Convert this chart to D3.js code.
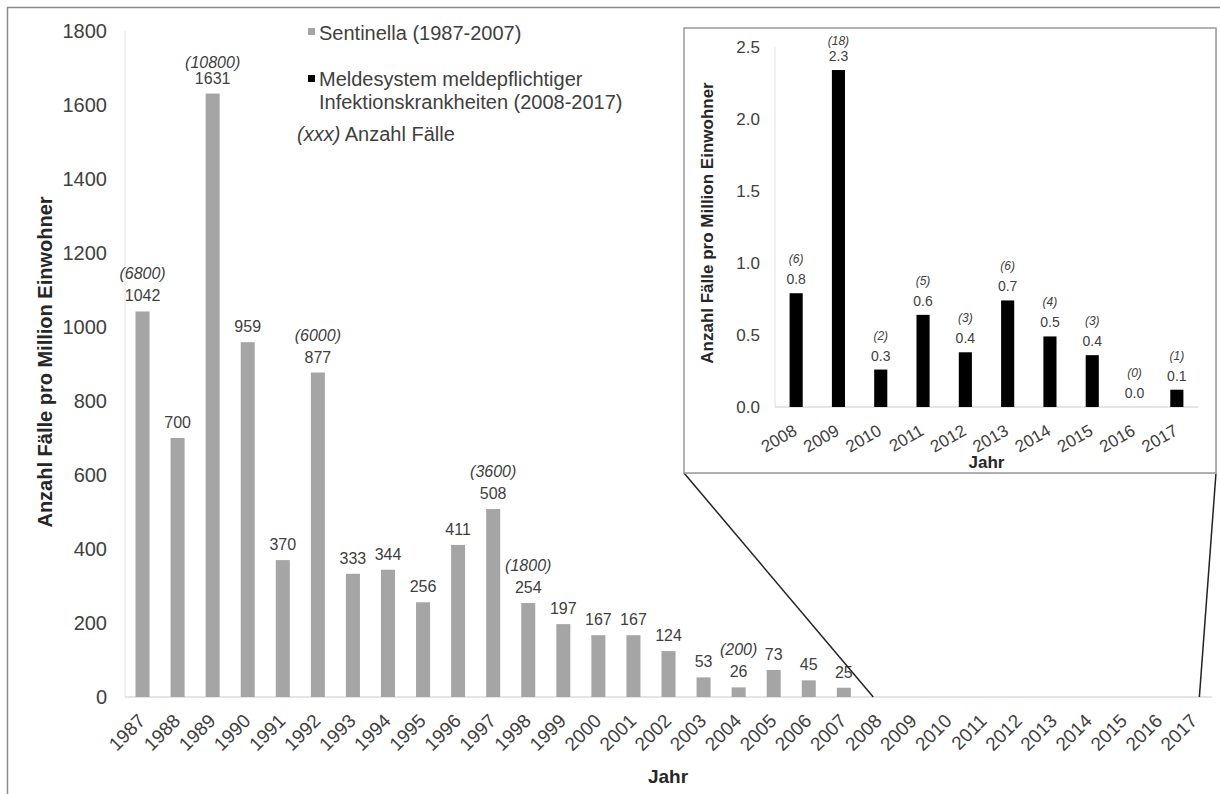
<!DOCTYPE html>
<meta charset="utf-8">
<style>
body { margin: 0; background: #fff; }
svg text { font-family: Arial, "Liberation Sans", sans-serif; }
.tick-label { fill: #404040; }
.val-label { fill: #404040; }
.case-label { fill: #404040; font-style: italic; }
.axis-title { font-weight: bold; fill: #262626; }
</style>
<svg width="1220" height="794"></svg>
<script src="https://d3js.org/d3.v7.min.js"></script>
<script>

// Sentinella 1987-2007
var sentYears = ["1987","1988","1989","1990","1991","1992","1993","1994","1995","1996","1997",
                 "1998","1999","2000","2001","2002","2003","2004","2005","2006","2007"];
var sentRates = [1042, 700, 1631, 959, 370, 877, 333, 344, 256, 411, 508,
                 254, 197, 167, 167, 124, 53, 26, 73, 45, 25];
var sentCases = [6800, null, 10800, null, null, 6000, null, null, null, null, 3600,
                 1800, null, null, null, null, null, 200, null, null, null];

// Meldesystem 2008-2017
var meldYears = ["2008","2009","2010","2011","2012","2013","2014","2015","2016","2017"];
var meldRates = [0.79, 2.34, 0.26, 0.64, 0.38, 0.74, 0.49, 0.36, 0.0, 0.12];
var meldCases = [6, 18, 2, 5, 3, 6, 4, 3, 0, 1];

var mainTicks = [0, 200, 400, 600, 800, 1000, 1200, 1400, 1600, 1800];
var insetTicks = [0, 0.5, 1.0, 1.5, 2.0, 2.5];

var legendItems = ["Sentinella (1987-2007)",
                   "Meldesystem meldepflichtiger|Infektionskrankheiten (2008-2017)"];

var svg = d3.select("svg");

// outer frame
svg.append("rect")
    .attr("x", 7.5).attr("y", 7.5)
    .attr("width", 1240).attr("height", 820)
    .attr("fill", "none")
    .attr("stroke", "#8a8a8a")
    .attr("stroke-width", 1.5);

// ---------- main chart ----------
var allYears = sentYears.concat(meldYears);

var x = d3.scaleBand()
    .domain(allYears)
    .range([125, 1212])
    .paddingInner(0.6)
    .paddingOuter(0.3);

var y = d3.scaleLinear()
    .domain([0, 1800])
    .range([697, 31]);

var main = svg.append("g");

// axis lines
main.append("line")
    .attr("x1", 125).attr("x2", 125)
    .attr("y1", y(1800)).attr("y2", y(0))
    .attr("stroke", "#e3e3e3").attr("stroke-width", 1);
main.append("line")
    .attr("x1", 125).attr("x2", 1212)
    .attr("y1", y(0)).attr("y2", y(0))
    .attr("stroke", "#dcdcdc").attr("stroke-width", 1.5);

main.selectAll(".ytick")
  .data(mainTicks)
  .join("text")
    .attr("class", "tick-label")
    .attr("x", 107)
    .attr("y", d => y(d))
    .attr("dy", "0.36em")
    .attr("text-anchor", "end")
    .attr("font-size", 20)
    .text(d => d);

main.selectAll(".xtick")
  .data(allYears)
  .join("text")
    .attr("class", "tick-label")
    .attr("text-anchor", "end")
    .attr("font-size", 19)
    .attr("transform", d => `translate(${x(d) + x.bandwidth() / 2 + 4},${y(0) + 25}) rotate(-45)`)
    .text(d => d);

var sentData = sentYears.map((yr, i) => ({year: yr, rate: sentRates[i], cases: sentCases[i]}));

main.selectAll(".bar")
  .data(sentData)
  .join("rect")
    .attr("x", d => x(d.year))
    .attr("y", d => y(d.rate))
    .attr("width", x.bandwidth())
    .attr("height", d => y(0) - y(d.rate))
    .attr("fill", "#a5a5a5");

main.selectAll(".val")
  .data(sentData)
  .join("text")
    .attr("class", "val-label")
    .attr("x", d => x(d.year) + x.bandwidth() / 2)
    .attr("y", d => y(d.rate) - 10)
    .attr("text-anchor", "middle")
    .attr("font-size", 16)
    .text(d => d.rate);

main.selectAll(".cases")
  .data(sentData.filter(d => d.cases !== null))
  .join("text")
    .attr("class", "case-label")
    .attr("x", d => x(d.year) + x.bandwidth() / 2)
    .attr("y", d => Math.max(y(d.rate) - 32, 68))
    .attr("text-anchor", "middle")
    .attr("font-size", 16)
    .text(d => "(" + d.cases + ")");

main.append("text")
    .attr("class", "axis-title")
    .attr("x", 668).attr("y", 783)
    .attr("text-anchor", "middle")
    .attr("font-size", 19)
    .text("Jahr");

main.append("text")
    .attr("class", "axis-title")
    .attr("transform", "translate(52,362) rotate(-90)")
    .attr("text-anchor", "middle")
    .attr("font-size", 20)
    .text("Anzahl Fälle pro Million Einwohner");

// legend
var legend = svg.append("g").attr("transform", "translate(308,0)");
legend.append("rect").attr("x", 0).attr("y", 28).attr("width", 7).attr("height", 7).attr("fill", "#a5a5a5");
legend.append("text").attr("x", 11).attr("y", 40).attr("font-size", 20).attr("fill", "#404040")
    .text(legendItems[0]);
legend.append("rect").attr("x", 0).attr("y", 75).attr("width", 7).attr("height", 7).attr("fill", "#000");
legend.append("text").attr("x", 11).attr("y", 86).attr("font-size", 20).attr("fill", "#404040")
  .selectAll("tspan")
  .data(legendItems[1].split("|"))
  .join("tspan")
    .attr("x", 11)
    .attr("dy", (d, i) => i ? 23 : 0)
    .text(d => d);
var note = legend.append("text").attr("x", -11).attr("y", 141).attr("font-size", 20).attr("fill", "#404040");
note.append("tspan").attr("font-style", "italic").text("(xxx)");
note.append("tspan").text(" Anzahl Fälle");

// ---------- inset ----------
var box = {x0: 684, y0: 28, x1: 1216, y1: 473};

// connector lines
svg.append("line")
    .attr("x1", box.x0).attr("y1", box.y1)
    .attr("x2", x("2008") + x.bandwidth() * 0.1).attr("y2", y(0))
    .attr("stroke", "#222").attr("stroke-width", 1.5);
svg.append("line")
    .attr("x1", box.x1).attr("y1", box.y1)
    .attr("x2", x("2017") + x.bandwidth() * 0.85).attr("y2", y(0))
    .attr("stroke", "#222").attr("stroke-width", 1.5);

var inset = svg.append("g");
inset.append("rect")
    .attr("x", box.x0 + 1).attr("y", box.y0 + 1)
    .attr("width", box.x1 - box.x0).attr("height", box.y1 - box.y0)
    .attr("fill", "#d8d8d8");
inset.append("rect")
    .attr("x", box.x0).attr("y", box.y0)
    .attr("width", box.x1 - box.x0).attr("height", box.y1 - box.y0)
    .attr("fill", "#fff")
    .attr("stroke", "#9a9a9a")
    .attr("stroke-width", 1.5);

var xi = d3.scaleBand()
    .domain(meldYears)
    .range([775, 1198])
    .paddingInner(0.69)
    .paddingOuter(0.345);

var yi = d3.scaleLinear()
    .domain([0, 2.5])
    .range([407, 47]);

inset.append("line")
    .attr("x1", 775).attr("x2", 775)
    .attr("y1", yi(2.5)).attr("y2", yi(0))
    .attr("stroke", "#e3e3e3");
inset.append("line")
    .attr("x1", 775).attr("x2", 1198)
    .attr("y1", yi(0)).attr("y2", yi(0))
    .attr("stroke", "#dcdcdc").attr("stroke-width", 1.5);

inset.selectAll(".ytick")
  .data(insetTicks)
  .join("text")
    .attr("class", "tick-label")
    .attr("x", 760)
    .attr("y", d => yi(d))
    .attr("dy", "0.36em")
    .attr("text-anchor", "end")
    .attr("font-size", 17)
    .text(d3.format(".1f"));

inset.selectAll(".xtick")
  .data(meldYears)
  .join("text")
    .attr("class", "tick-label")
    .attr("text-anchor", "end")
    .attr("font-size", 17)
    .attr("transform", d => `translate(${xi(d) + xi.bandwidth() / 2 + 2},${yi(0) + 27}) rotate(-30)`)
    .text(d => d);

var meldData = meldYears.map((yr, i) => ({year: yr, rate: meldRates[i], cases: meldCases[i]}));

inset.selectAll(".bar")
  .data(meldData)
  .join("rect")
    .attr("x", d => xi(d.year))
    .attr("y", d => yi(d.rate))
    .attr("width", xi.bandwidth())
    .attr("height", d => yi(0) - yi(d.rate))
    .attr("fill", "#000");

inset.selectAll(".val")
  .data(meldData)
  .join("text")
    .attr("class", "val-label")
    .attr("x", d => xi(d.year) + xi.bandwidth() / 2)
    .attr("y", d => yi(d.rate) - 9)
    .attr("text-anchor", "middle")
    .attr("font-size", 14)
    .text(d => d3.format(".1f")(d.rate));

inset.selectAll(".cases")
  .data(meldData)
  .join("text")
    .attr("class", "case-label")
    .attr("x", d => xi(d.year) + xi.bandwidth() / 2)
    .attr("y", d => Math.max(yi(d.rate) - 30, 45))
    .attr("text-anchor", "middle")
    .attr("font-size", 12)
    .text(d => "(" + d.cases + ")");

inset.append("text")
    .attr("class", "axis-title")
    .attr("x", (775 + 1198) / 2).attr("y", 468)
    .attr("text-anchor", "middle")
    .attr("font-size", 17)
    .text("Jahr");

inset.append("text")
    .attr("class", "axis-title")
    .attr("transform", "translate(713,223) rotate(-90)")
    .attr("text-anchor", "middle")
    .attr("font-size", 17)
    .text("Anzahl Fälle pro Million Einwohner");

</script>
